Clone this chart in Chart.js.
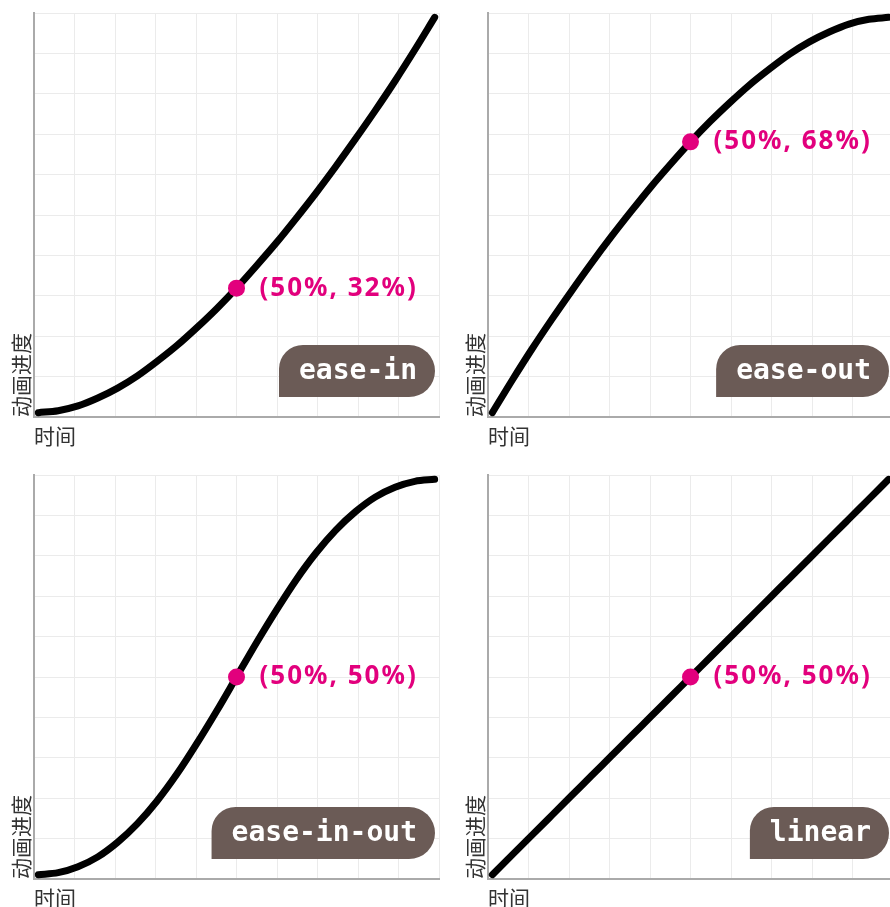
<!DOCTYPE html>
<html lang="zh">
<head>
<meta charset="utf-8">
<title>CSS 缓动曲线</title>
<script src="https://cdn.jsdelivr.net/npm/chart.js@4.4.1/dist/chart.umd.min.js"></script>
<style>
  html, body { margin: 0; padding: 0; background: #fff; overflow: hidden; }
  .board { position: relative; width: 890px; height: 907px; overflow: hidden; }
  .panel { position: absolute; width: 454px; height: 462px; }
  .panel canvas { display: block; }
</style>
</head>
<body>
<div class="board">
  <div class="panel" style="left:0;top:0"><canvas id="c0" width="454" height="462"></canvas></div>
  <div class="panel" style="left:454px;top:0"><canvas id="c1" width="454" height="462"></canvas></div>
  <div class="panel" style="left:0;top:462px"><canvas id="c2" width="454" height="462"></canvas></div>
  <div class="panel" style="left:454px;top:462px"><canvas id="c3" width="454" height="462"></canvas></div>
</div>
<script>
'use strict';

/* ---- Data ---- */
const TIME        = [0, 0.05, 0.1, 0.15, 0.2, 0.25, 0.3, 0.35, 0.4, 0.45, 0.5,
                     0.55, 0.6, 0.65, 0.7, 0.75, 0.8, 0.85, 0.9, 0.95, 1];
const EASE_IN     = [0, 0.005, 0.017, 0.037, 0.062, 0.093, 0.13, 0.17, 0.215, 0.263, 0.315,
                     0.371, 0.429, 0.491, 0.555, 0.622, 0.692, 0.764, 0.839, 0.918, 1];
const EASE_OUT    = [0, 0.082, 0.161, 0.236, 0.308, 0.378, 0.445, 0.509, 0.571, 0.629, 0.685,
                     0.737, 0.785, 0.83, 0.87, 0.907, 0.938, 0.963, 0.983, 0.995, 1];
const EASE_IN_OUT = [0, 0.005, 0.02, 0.045, 0.082, 0.129, 0.187, 0.255, 0.332, 0.414, 0.5,
                     0.586, 0.668, 0.745, 0.813, 0.871, 0.918, 0.955, 0.98, 0.995, 1];
const LINEAR      = [0, 0.05, 0.1, 0.15, 0.2, 0.25, 0.3, 0.35, 0.4, 0.45, 0.5,
                     0.55, 0.6, 0.65, 0.7, 0.75, 0.8, 0.85, 0.9, 0.95, 1];

const CURVE_NAMES = ['ease-in', 'ease-out', 'ease-in-out', 'linear'];
const CURVES      = [EASE_IN, EASE_OUT, EASE_IN_OUT, LINEAR];
const MARK_X      = 0.5;
const MARK_Y      = [0.315, 0.685, 0.5, 0.5];
const MARK_LABELS = ['(50%, 32%)', '(50%, 68%)', '(50%, 50%)', '(50%, 50%)'];

const X_TITLE = '时间';
const Y_TITLE = '动画进度';

/* ---- Theme ---- */
const MAGENTA = '#e2007d';
const BADGE   = '#6b5b56';
const CJK     = '"Noto Sans CJK SC", "Noto Sans", sans-serif';
// curves sit a few px inside the grid box
const INSET   = 0.011;

/* ---- Point label + name badge ---- */
const easeNotes = {
  id: 'easeNotes',
  afterDatasetsDraw(chart, args, opts) {
    const { ctx, chartArea, scales } = chart;

    const px = scales.xd.getPixelForValue(opts.markX);
    const py = scales.yd.getPixelForValue(opts.markY);
    ctx.save();
    ctx.font = 'bold 26px "Noto Sans", sans-serif';
    ctx.letterSpacing = '2px';
    ctx.fillStyle = MAGENTA;
    ctx.textAlign = 'left';
    ctx.textBaseline = 'middle';
    ctx.fillText(opts.label, px + 23, py);
    ctx.restore();

    ctx.save();
    ctx.font = 'bold 28px "DejaVu Sans Mono", monospace';
    const h = 52;
    const w = ctx.measureText(opts.name).width + 38;
    const right  = chartArea.right - 4;
    const bottom = chartArea.bottom - 20;
    ctx.fillStyle = BADGE;
    ctx.beginPath();
    ctx.roundRect(right - w, bottom - h, w, h, [24, 26, 26, 0]);
    ctx.fill();
    ctx.fillStyle = '#fff';
    ctx.textAlign = 'center';
    ctx.textBaseline = 'middle';
    ctx.fillText(opts.name, right - w / 2 + 1, bottom - h / 2 + 1);
    ctx.restore();
  }
};

const gridAxis = (title, pad) => ({
  type: 'linear',
  min: 0,
  max: 1,
  ticks: { display: false, stepSize: 0.1 },
  grid: { color: '#ebebeb', lineWidth: 1, drawTicks: false },
  border: { color: '#aaaaaa', width: 2 },
  title: {
    display: true,
    text: title,
    align: 'start',
    color: '#333',
    font: { family: CJK, size: 21 },
    padding: pad
  }
});

const dataAxis = (pos) => ({
  type: 'linear',
  position: pos,
  display: false,
  min: -INSET,
  max: 1 + INSET
});

function makeChart(idx) {
  const canvas = document.getElementById('c' + idx);
  const values = CURVES[idx];

  return new Chart(canvas, {
    type: 'line',
    data: {
      datasets: [
        {
          data: [{ x: MARK_X, y: MARK_Y[idx] }],
          xAxisID: 'xd',
          yAxisID: 'yd',
          showLine: false,
          pointRadius: 8.5,
          pointBackgroundColor: MAGENTA,
          pointBorderWidth: 0,
          order: 0
        },
        {
          data: TIME.map((t, i) => ({ x: t, y: values[i] })),
          xAxisID: 'xd',
          yAxisID: 'yd',
          borderColor: '#000',
          borderWidth: 7,
          borderCapStyle: 'round',
          borderJoinStyle: 'round',
          cubicInterpolationMode: 'monotone',
          pointRadius: 0,
          clip: 6,
          order: 1
        }
      ]
    },
    options: {
      responsive: false,
      animation: false,
      events: [],
      layout: { padding: { left: 8.8, top: 13, right: 15, bottom: 13.8 } },
      plugins: {
        legend: { display: false },
        tooltip: { enabled: false },
        easeNotes: { markX: MARK_X, markY: MARK_Y[idx], label: MARK_LABELS[idx], name: CURVE_NAMES[idx] }
      },
      scales: {
        x: gridAxis(X_TITLE, { top: 6, bottom: 0 }),
        y: gridAxis(Y_TITLE, { top: 0, bottom: 0 }),
        xd: dataAxis('bottom'),
        yd: dataAxis('left')
      }
    },
    plugins: [easeNotes]
  });
}

CURVE_NAMES.forEach((name, i) => makeChart(i));
</script>
</body>
</html>
